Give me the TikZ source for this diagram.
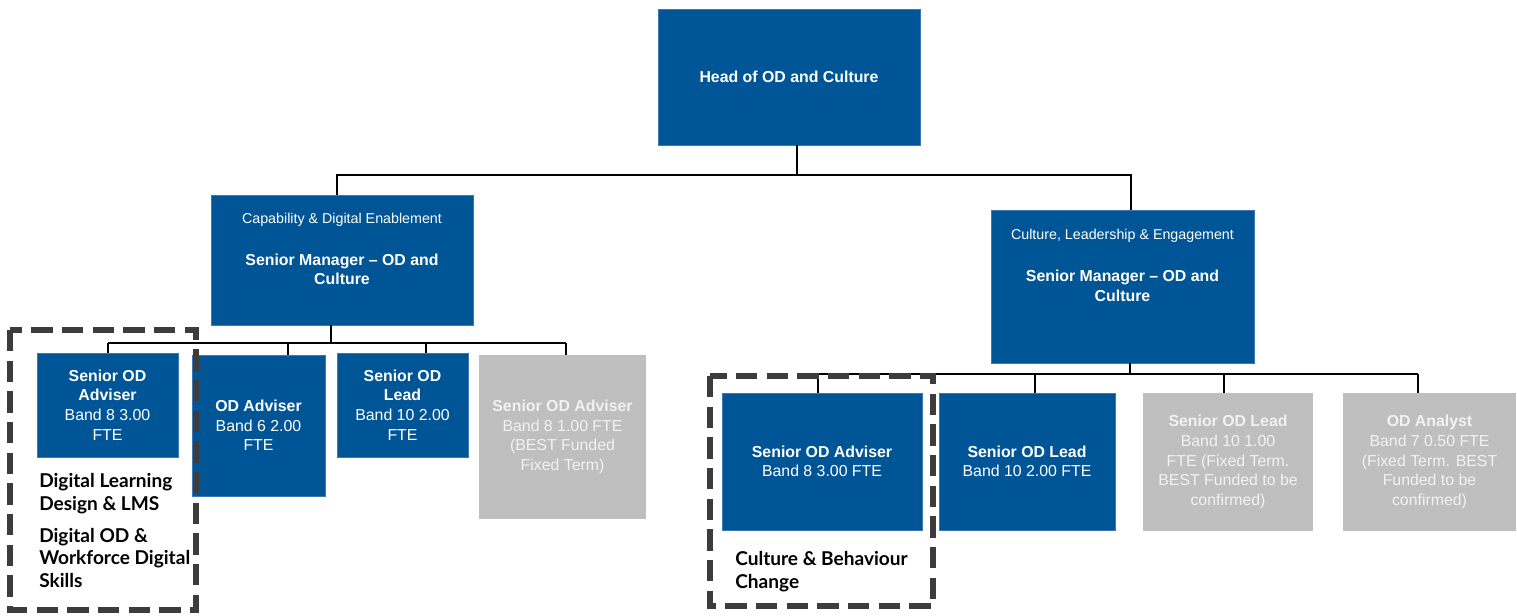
\documentclass[tikz,border=0pt]{standalone}
\usepackage{fontspec}
\setmainfont{Liberation Sans}
\newfontfamily\labelfont{Lato}
\usepackage{tikz}

\definecolor{odblue}{RGB}{0,85,150}
\definecolor{boxedge}{RGB}{60,120,185}
\definecolor{vacantgrey}{RGB}{191,191,191}
\definecolor{vacanttext}{RGB}{242,242,242}
\definecolor{framegrey}{RGB}{60,60,60}

\tikzset{
  unit box/.style={draw=boxedge, line width=0.6pt, fill=odblue, text=white, align=center, inner sep=2pt, font=\fontsize{11.9}{14.7}\selectfont},
  vacant box/.style={fill=vacantgrey, text=vacanttext, align=center, inner sep=2pt, font=\fontsize{11.9}{14.7}\selectfont},
  link/.style={line width=1.5pt},
  group frame/.style={draw=framegrey, line width=4.5pt, dash pattern=on 16pt off 7pt},
  group label/.style={font=\labelfont\bfseries\fontsize{14.3}{17}\selectfont, align=left, anchor=north west, inner sep=0pt}
}

\begin{document}
\begin{tikzpicture}[x=0.75pt, y=-0.75pt]
      \useasboundingbox (0,0) rectangle (1517,615);

      \node[unit box, minimum width=196.5pt, minimum height=102pt]    (head) at (789,77)      {\bfseries Head of OD and Culture};
      \node[unit box, minimum width=196.5pt, minimum height=97.5pt]   (cap)  at (342,260)     {{\fontsize{10.7}{13}\selectfont Capability \& Digital Enablement}\\[16.5pt]\textbf{Senior Manager -- OD and}\\\textbf{Culture}\\[1.5pt]\mbox{}};
      \node[unit box, minimum width=197.25pt, minimum height=114.75pt] (cle) at (1122.5,286.5) {{\fontsize{10.7}{13}\selectfont Culture, Leadership \& Engagement}\\[16.5pt]\textbf{Senior Manager -- OD and}\\\textbf{Culture}\\[17pt]\mbox{}};

      \node[unit box, minimum width=105.75pt, minimum height=78pt]    (capA) at (107.5,405)  {\textbf{Senior OD}\\\textbf{Adviser}\\Band 8 3.00\\FTE};
      \node[unit box, minimum width=99.75pt, minimum height=105.75pt] (capB) at (258.5,425.5) {\textbf{OD Adviser}\\Band 6 2.00\\FTE};
      \node[unit box, minimum width=98.25pt, minimum height=78pt]     (capC) at (402.5,405)  {\textbf{Senior OD}\\\textbf{Lead}\\Band 10 2.00\\FTE};
      \node[vacant box, minimum width=125.25pt, minimum height=123pt] (capD) at (562.5,437)  {\textbf{Senior OD Adviser}\\Band 8 1.00 FTE\\(BEST Funded\\Fixed Term)};

      \node[unit box, minimum width=150pt, minimum height=102.75pt]   (cleA) at (822,461.5)  {\textbf{Senior OD Adviser}\\Band 8 3.00 FTE};
      \node[unit box, minimum width=132pt, minimum height=102.75pt]   (cleB) at (1027,461.5) {\textbf{Senior OD Lead}\\Band 10 2.00 FTE};
      \node[vacant box, minimum width=127.5pt, minimum height=103.5pt] (cleC) at (1228,462)  {\textbf{Senior OD Lead}\\Band 10 1.00\\FTE (Fixed Term.\\BEST Funded to be\\confirmed)};
      \node[vacant box, minimum width=129.75pt, minimum height=103.5pt] (cleD) at (1429.5,462) {\textbf{OD Analyst}\\Band 7 0.50 FTE\\(Fixed Term. BEST\\Funded to be\\confirmed)};

      % head to senior managers
      \coordinate (topM) at (797,175);
      \coordinate (topL) at (337,175);
      \coordinate (topR) at (1131,175);
      \draw[link] (head.south -| topM) -- (topM);
      \draw[link] (cap.north -| topL) |- (topR) -- (cle.north -| topR);

      % capability team
      \coordinate (capS) at (331,343);
      \draw[link] (cap.south -| capS) -- (capS);
      \foreach \n/\x in {capA/108, capB/288, capC/426, capD/566} {
        \coordinate (drop\n) at (\x,343);
        \draw[link] (drop\n) -- (drop\n |- \n.north);
      }
      \draw[link] (dropcapA) -- (dropcapD);

      % culture team
      \coordinate (cleS) at (1130,374);
      \draw[link] (cle.south -| cleS) -- (cleS);
      \foreach \n/\x in {cleA/818, cleB/1035, cleC/1224, cleD/1418} {
        \coordinate (drop\n) at (\x,374);
        \draw[link] (drop\n) -- (drop\n |- \n.north);
      }
      \draw[link] (dropcleA) -- (dropcleD);

      % focus areas
      \draw[group frame] (10,330) rectangle (196,610);
      \draw[group frame] (710,376) rectangle (933,606);
      \node[group label] (digiLabel) at (39,473) {Digital Learning\\Design \& LMS\\[7pt]Digital OD \&\\Workforce Digital\\Skills};
      \node[group label] (cultLabel) at (735,551) {Culture \& Behaviour\\Change};
    \end{tikzpicture}
\end{document}
